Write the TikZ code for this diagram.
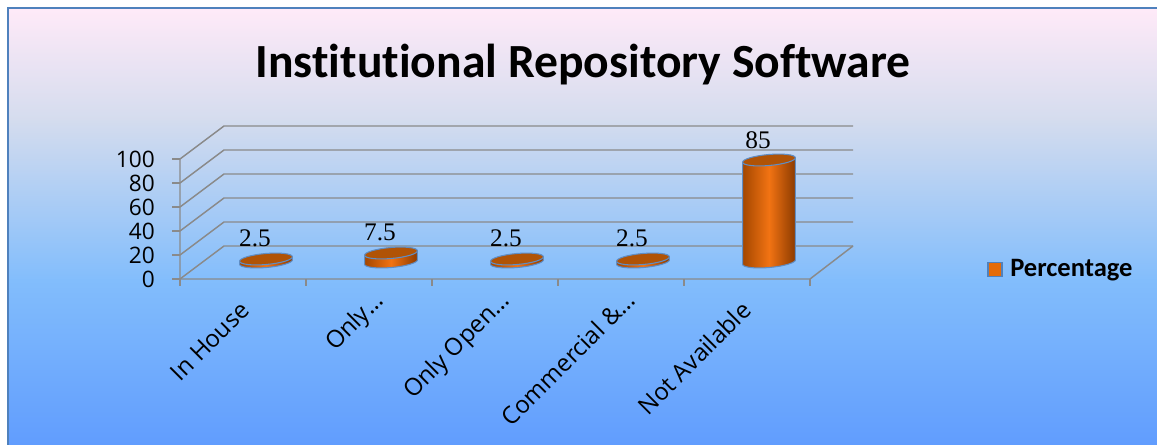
\documentclass[tikz,border=0pt]{standalone}
\usepackage{fontspec}
\setmainfont{Carlito}[Ligatures=NoCommon]
\newfontfamily\osans{Open Sans}[Ligatures=NoCommon]
\newfontfamily\tnr{Liberation Serif}
\definecolor{bgA}{HTML}{FFEAF8}
\definecolor{bgB}{HTML}{D4DCEE}
\definecolor{bgC}{HTML}{82BDFC}
\definecolor{bgD}{HTML}{5E9AFE}
\definecolor{frameblue}{HTML}{4F81BD}
\definecolor{gridgray}{HTML}{8A8A8A}
\definecolor{cylDark}{HTML}{A44700}
\definecolor{cylDarkR}{HTML}{8C3B00}
\definecolor{cylBright}{HTML}{F27313}
\definecolor{cylTop}{HTML}{B05306}
\definecolor{cylLine}{HTML}{5F8DC4}
\definecolor{legOrange}{HTML}{E46C0A}
\tikzset{
  grid/.style={draw=gridgray,line width=1.1pt},
  ylab/.style={anchor=east,inner sep=0pt,font=\osans\fontsize{17}{20}\selectfont},
  catlab/.style={anchor=base east,rotate=45,inner sep=0pt,font=\osans\fontsize{18}{21}\selectfont},
  datalab/.style={anchor=base,inner sep=0pt,font=\tnr\fontsize{19}{22}\selectfont},
  cylside/.style={draw=cylLine,line width=0.8pt,left color=cylDark,right color=cylDarkR,middle color=cylBright},
  cyltop/.style={draw=cylLine,line width=0.8pt,fill=cylTop},
}
\newcommand\drawcyl[2]{%
  \shadedraw[cylside] ({#1-26.5*cos(5)},{-262-26.5*sin(5)}) -- ++(0,#2)
    -- ({#1+26.5*cos(5)},{-262+26.5*sin(5)+#2})
    -- ({#1+26.5*cos(5)},{-262+26.5*sin(5)})
    -- plot[domain=0:-180,samples=40,variable=\t]
       ({#1+26.5*cos(\t)*cos(5)-5.5*sin(\t)*sin(5)},{-262+26.5*cos(\t)*sin(5)+5.5*sin(\t)*cos(5)})
    -- cycle;
  \filldraw[cyltop,rotate around={5:({#1},{-262+#2})}] ({#1},{-262+#2}) ellipse (26.5 and 5.5);
}
\begin{document}
\begin{tikzpicture}[x=0.75pt,y=0.75pt]
\useasboundingbox (0,0) rectangle (1157,-445);
\clip (0,0) rectangle (1157,-445);
\fill[white] (0,0) rectangle (1157,-445);
% background gradient
\shade[top color=bgA,bottom color=bgB] (8,-8) rectangle (1170,-121);
\shade[top color=bgB,bottom color=bgC] (8,-120) rectangle (1170,-281);
\shade[top color=bgC,bottom color=bgD] (8,-280) rectangle (1170,-460);
\draw[frameblue,line width=1.7pt] (8,-460) -- (8,-8) -- (1170,-8);
% title
\node[anchor=base,inner sep=0pt,font=\bfseries\fontsize{35.7}{40}\selectfont] (title) at (583,-78) {Institutional Repository Software};
% walls and gridlines
\foreach \k in {0,...,5} {
  \draw[grid] (180,{-279+24*\k}) -- (224,{-246+24*\k}) -- (853,{-246+24*\k});
  \draw[grid] (172,{-279+24*\k}) -- (180,{-279+24*\k});
  \draw[grid] ({180+126*\k},-279) -- ++(0,-7);
}
\draw[grid] (180,-159) -- (180,-279) -- (810,-279) -- (853,-246);
% y labels
\foreach \v [count=\k from 0] in {0,20,40,60,80,100}
  \node[ylab] (y\v) at (155,{-279+24*\k}) {\v};
% cylinders
\drawcyl{266}{3}
\drawcyl{391}{9}
\drawcyl{517}{3}
\drawcyl{643}{3}
\drawcyl{769}{102}
% data labels
\node[datalab] (d1) at (255,-247) {2.5};
\node[datalab] (d2) at (380,-241) {7.5};
\node[datalab] (d3) at (506,-247) {2.5};
\node[datalab] (d4) at (632,-247) {2.5};
\node[datalab] (d5) at (758,-149) {85};
% category labels
\node[catlab] (c1) at (251,-312) {In House};
\node[catlab] (c2) at (385,-302) {Only…};
\node[catlab] (c3) at (511,-302) {Only Open…};
\node[catlab] (c4) at (637,-302) {Commercial \&…};
\node[catlab] (c5) at (753,-312) {Not Available};
% legend
\node[draw=frameblue,fill=legOrange,line width=0.8pt,minimum size=10.5pt,inner sep=0pt] (legsq) at (995,-269.5) {};
\node[anchor=west,inner sep=0pt,font=\bfseries\fontsize{19.9}{23}\selectfont] (legtxt) at (1010,-270) {Percentage};
\end{tikzpicture}
\end{document}
